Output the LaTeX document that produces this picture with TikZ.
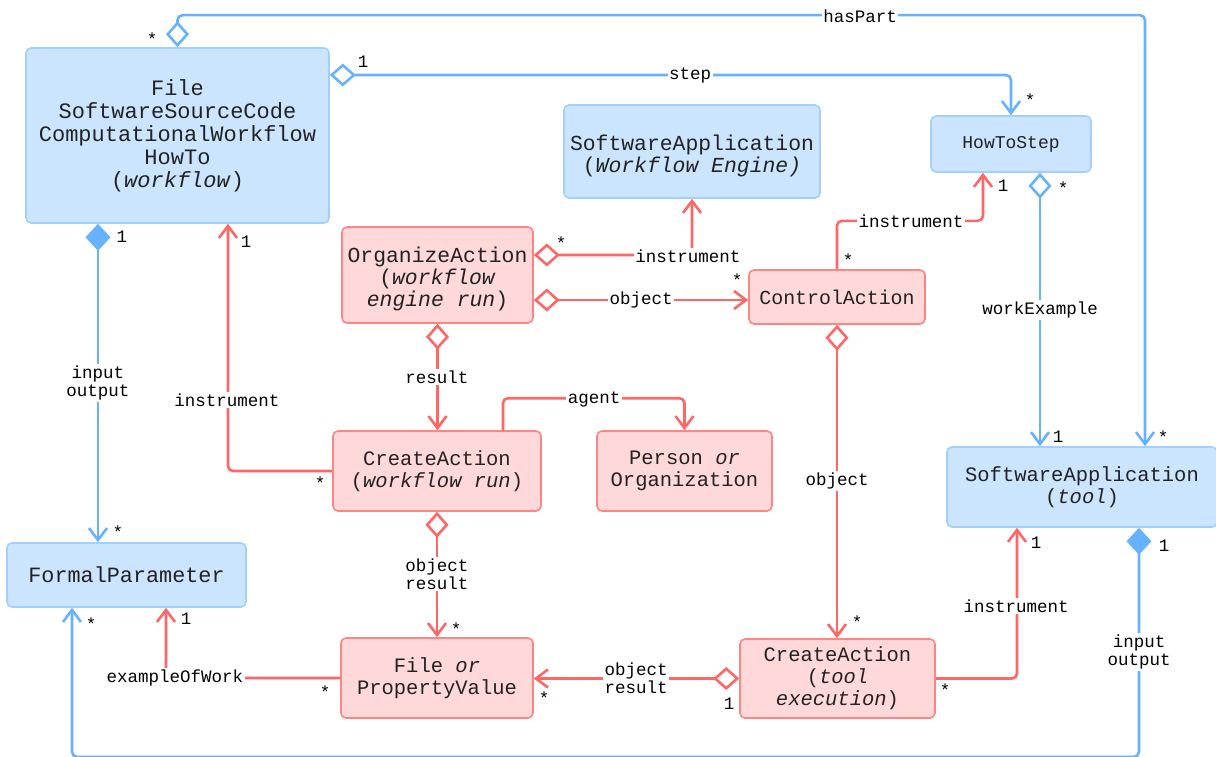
\documentclass[tikz,border=0pt]{standalone}
\usepackage{fontspec}
\setmonofont{Liberation Mono}
\usetikzlibrary{arrows.meta,calc}
\definecolor{bline}{HTML}{66B2FF}
\definecolor{bfill}{HTML}{CCE5FF}
\definecolor{bdraw}{HTML}{A3CFFF}
\definecolor{rline}{HTML}{FF6666}
\definecolor{rfill}{HTML}{FFD9D9}
\definecolor{rdraw}{HTML}{FF8585}
\definecolor{ink}{HTML}{222222}
\begin{document}
\begin{tikzpicture}[x=1pt,y=-1pt,
  box/.style={rectangle, rounded corners=5pt, line width=1.6pt, align=center, text=ink,
    font=\ttfamily\fontsize{20.5}{22}\selectfont, inner sep=0pt},
  bluebox/.style={box, fill=bfill, draw=bdraw},
  redbox/.style={box, fill=rfill, draw=rdraw},
  conn/.style={line width=2.6pt, rounded corners=5pt},
  bconn/.style={conn, draw=bline},
  rconn/.style={conn, draw=rline},
  aggr/.style={arrows={Diamond[open,length=26pt,width=23pt]-Straight Barb[length=12pt,width=18pt]}},
  comp/.style={arrows={Diamond[length=27pt,width=25pt]-Straight Barb[length=12pt,width=18pt]}},
  assoc/.style={arrows={-Straight Barb[length=12pt,width=18pt]}},
  lbl/.style={fill=white, inner sep=1.5pt, align=center, text=black,
    font=\ttfamily\fontsize{17.5}{18}\selectfont},
  mult/.style={inner sep=0pt, text=black, font=\ttfamily\fontsize{17.5}{18}\selectfont},
]
\useasboundingbox (0,0) rectangle (1216,757);

% classes
\node[bluebox, minimum width=303pt, minimum height=175pt,
  font=\ttfamily\fontsize{22}{23}\selectfont] (wf) at (177.5,135.5)
  {File\\SoftwareSourceCode\\ComputationalWorkflow\\HowTo\\(\textit{workflow})};
\node[bluebox, minimum width=256pt, minimum height=93pt,
  font=\ttfamily\fontsize{21.4}{22}\selectfont] (swe) at (692,151.5)
  {\rule{0pt}{25pt}SoftwareApplication\\(\textit{Workflow Engine)}};
\node[bluebox, minimum width=160pt, minimum height=56pt,
  font=\ttfamily\fontsize{18}{20}\selectfont] (hts) at (1011,144) {HowToStep};
\node[redbox, minimum width=191pt, minimum height=96pt,
  font=\ttfamily\fontsize{21.4}{22}\selectfont] (org) at (437.5,275)
  {\rule{0pt}{24pt}OrganizeAction\\(\textit{workflow}\\\textit{engine run})};
\node[redbox, minimum width=176pt, minimum height=54pt,
  font=\ttfamily\fontsize{19.9}{22}\selectfont] (ctl) at (837,297) {ControlAction};
\node[redbox, minimum width=208pt, minimum height=80pt] (cwr) at (437,471)
  {CreateAction\\(\textit{workflow run})};
\node[redbox, minimum width=175pt, minimum height=80pt] (per) at (684.5,471)
  {Person \textit{or}\\Organization};
\node[bluebox, minimum width=270pt, minimum height=80pt] (sat) at (1082,487)
  {SoftwareApplication\\(\textit{tool})};
\node[bluebox, minimum width=239pt, minimum height=64pt,
  font=\ttfamily\fontsize{21.8}{22}\selectfont] (fp) at (126.5,575)
  {FormalParameter};
\node[redbox, minimum width=192pt, minimum height=80pt] (fpv) at (437,678)
  {File \textit{or}\\PropertyValue};
\node[redbox, minimum width=195pt, minimum height=79pt] (cte) at (837.5,678.5)
  {CreateAction\\(\textit{tool}\\\textit{execution})};

% connectors
\draw[bconn, aggr] (wf.north) -- ++(0,-32) -| ($(sat.north)+(63,0)$);
\draw[bconn, aggr] ($(wf.east)+(0,-60.5)$) -| (hts.north);
\draw[bconn, aggr] ($(hts.south)+(29,0)$) -- ($(sat.north)+(-42,0)$);
\draw[rconn, assoc] (ctl.north) |- ($(hts.south)+(-28,48)$) -- ($(hts.south)+(-28,0)$);
\draw[rconn, aggr] ($(org.east)+(0,-20)$) -| (swe.south);
\coordinate (oo) at ($(org.east)+(0,25)$);
\draw[rconn, aggr] (oo) -- (oo -| ctl.west);
\draw[rconn, aggr] (org.south) -- (org.south |- cwr.north);
\draw[rconn, assoc] ($(cwr.north)+(66,0)$) |- ($(per.north)+(0,-32)$) -- (per.north);
\draw[rconn, assoc] (cwr.west) -| ($(wf.south)+(50.5,0)$);
\coordinate (io) at ($(wf.south)+(-79.5,0)$);
\draw[bconn, comp] (io) -- (io |- fp.north);
\draw[rconn, aggr] (cwr.south) -- (fpv.north);
\draw[rconn, assoc] (fpv.west) -| ($(fp.south)+(39.5,0)$);
\draw[rconn, aggr] (cte.west) -- (cte.west -| fpv.east);
\draw[rconn, aggr] (ctl.south) -- (ctl.south |- cte.north);
\draw[rconn, assoc] (cte.east) -| ($(sat.south)+(-65,0)$);
\draw[bconn, comp] ($(sat.south)+(57,0)$) -- ++(0,229) -| ($(fp.south)+(-54.5,0)$);

% role names
\node[lbl] (lhas) at (860,16) {hasPart};
\node[lbl] (lstep) at (690,75) {step};
\node[lbl] (lwex) at (1040,310) {workExample};
\node[lbl] (lins1) at (911,221) {instrument};
\node[lbl] (lins2) at (688,256) {instrument};
\node[lbl] (lobj1) at (641,300) {object};
\node[lbl] (lres) at (437,377) {result};
\node[lbl] (lagent) at (594,399) {agent};
\node[lbl] (lins3) at (227,400) {instrument};
\node[lbl] (lio1) at (98,383) {input\\output};
\node[lbl] (lor1) at (437,574) {object\\result};
\node[lbl] (lex) at (175,678) {exampleOfWork};
\node[lbl] (lor2) at (636,678) {object\\result};
\node[lbl] (lobj2) at (837,481) {object};
\node[lbl] (lins4) at (1016,606) {instrument};
\node[lbl] (lio2) at (1139,652) {input\\output};

% multiplicities
\node[mult] (m1) at (152,39) {*};
\node[mult] (m2) at (1163,437) {*};
\node[mult] (m3) at (363,62) {1};
\node[mult] (m4) at (1030,100) {*};
\node[mult] (m5) at (1003,186) {1};
\node[mult] (m6) at (1063,188) {*};
\node[mult] (m7) at (848,260) {*};
\node[mult] (m8) at (561,243) {*};
\node[mult] (m9) at (737,280) {*};
\node[mult] (m10) at (122,237) {1};
\node[mult] (m11) at (246,242) {1};
\node[mult] (m12) at (320,483) {*};
\node[mult] (m13) at (118,532) {*};
\node[mult] (m14) at (1058,437) {1};
\node[mult] (m15) at (1036,543) {1};
\node[mult] (m16) at (1164,546) {1};
\node[mult] (m17) at (91,624) {*};
\node[mult] (m18) at (186,619) {1};
\node[mult] (m19) at (456,629) {*};
\node[mult] (m20) at (857,622) {*};
\node[mult] (m21) at (325,692) {*};
\node[mult] (m22) at (544,698) {*};
\node[mult] (m23) at (729,704) {1};
\node[mult] (m24) at (945,690) {*};
\end{tikzpicture}
\end{document}
